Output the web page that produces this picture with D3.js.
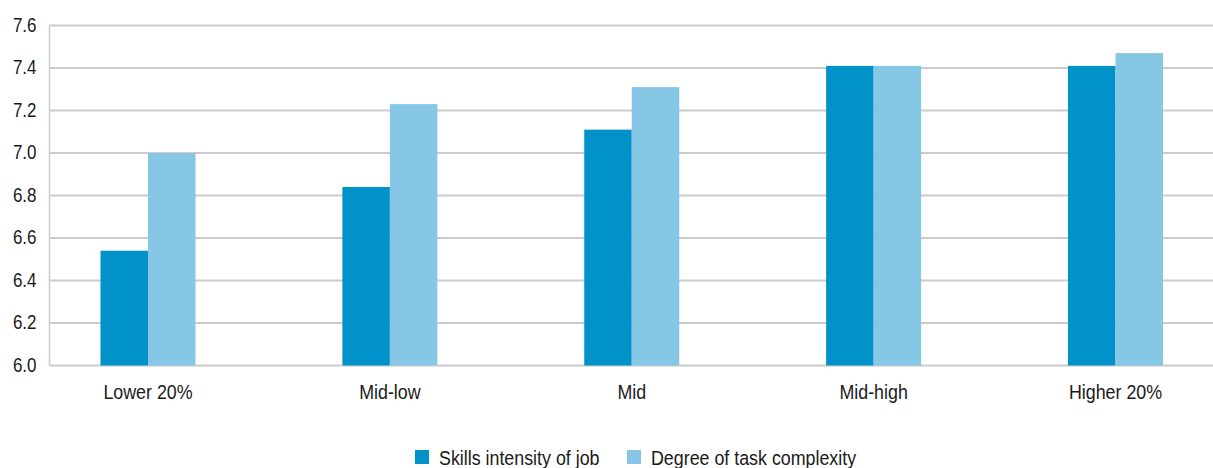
<!DOCTYPE html>
<html>
<head>
<meta charset="utf-8">
<script src="https://cdn.jsdelivr.net/npm/d3@7"></script>
<style>
  html, body { margin: 0; padding: 0; background: #ffffff; }
  svg text { font-family: "Liberation Sans", Arial, sans-serif; fill: #1a1a1a; }
</style>
</head>
<body>
<svg id="chart" width="1213" height="468"></svg>
<script>
const categories = ["Lower 20%", "Mid-low", "Mid", "Mid-high", "Higher 20%"];
const seriesNames = ["Skills intensity of job", "Degree of task complexity"];
const skillsIntensity = [6.54, 6.84, 7.11, 7.41, 7.41];
const taskComplexity = [7.00, 7.23, 7.31, 7.41, 7.47];
const yTicks = [6.0, 6.2, 6.4, 6.6, 6.8, 7.0, 7.2, 7.4, 7.6];
const colors = ["#0092c8", "#86c7e5"];

const svg = d3.select("#chart");
const plotLeft = 49.5, plotRight = 1213;
const y = d3.scaleLinear().domain([6.0, 7.6]).range([365.5, 25.5]);
const x = d3.scalePoint().domain(categories).range([148, 1115.5]);
const barW = 47.5;
const sx = 0.87; // condensed look

// gridlines
svg.append("g").selectAll("line").data(yTicks).join("line")
  .attr("x1", plotLeft).attr("x2", plotRight)
  .attr("y1", d => y(d)).attr("y2", d => y(d))
  .attr("stroke", "#cbcbcb").attr("stroke-width", 2);

// left axis line
svg.append("line")
  .attr("x1", plotLeft).attr("x2", plotLeft)
  .attr("y1", y(7.6)).attr("y2", y(6.0))
  .attr("stroke", "#cbcbcb").attr("stroke-width", 1.5);

// y tick labels
svg.append("g").selectAll("text").data(yTicks).join("text")
  .attr("transform", d => `translate(36.5,${y(d) + 6}) scale(${sx},1)`)
  .attr("text-anchor", "end")
  .attr("font-size", "19.5px")
  .text(d => d.toFixed(1));

// bars
const series = [skillsIntensity, taskComplexity];
series.forEach((vals, si) => {
  svg.append("g").selectAll("rect").data(categories).join("rect")
    .attr("x", d => x(d) + (si === 0 ? -barW : 0))
    .attr("width", barW)
    .attr("y", (d, i) => y(vals[i]))
    .attr("height", (d, i) => y(6.0) - y(vals[i]))
    .attr("fill", colors[si]);
});

// category labels
svg.append("g").selectAll("text").data(categories).join("text")
  .attr("transform", d => `translate(${x(d)},398.5) scale(${sx},1)`)
  .attr("text-anchor", "middle")
  .attr("font-size", "20.5px")
  .text(d => d);

// legend
const legendX = [415, 627];
const lg = svg.append("g");
seriesNames.forEach((name, i) => {
  lg.append("rect").attr("x", legendX[i]).attr("y", 450).attr("width", 14).attr("height", 14).attr("fill", colors[i]);
  lg.append("text")
    .attr("transform", `translate(${legendX[i] + 24},464.5) scale(${sx},1)`)
    .attr("font-size", "20.5px").text(name);
});
</script>
</body>
</html>
